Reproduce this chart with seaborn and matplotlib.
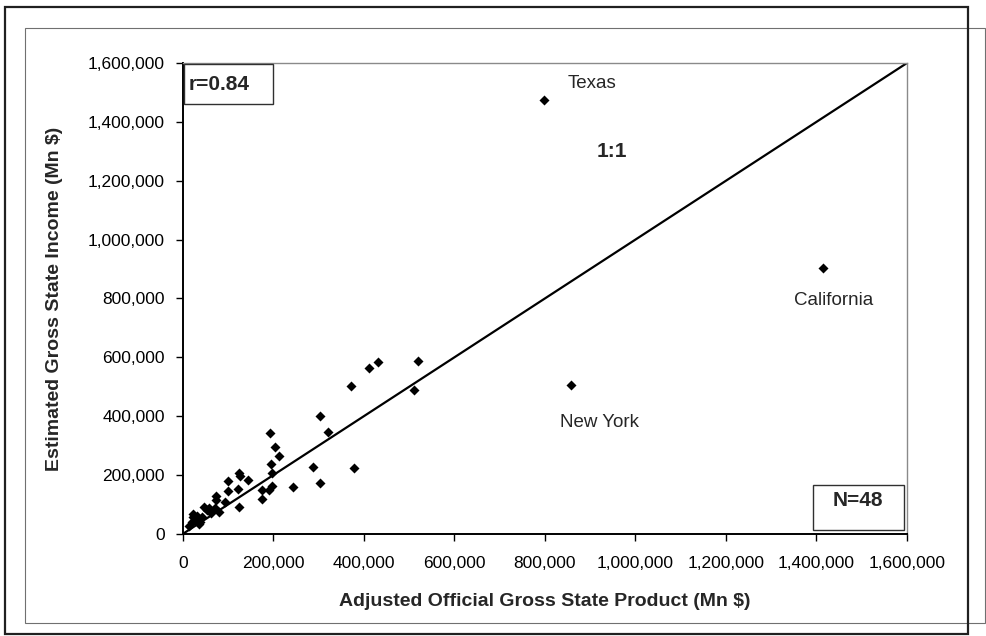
import matplotlib
matplotlib.use("Agg")
import matplotlib.pyplot as plt
import seaborn as sns
import pandas as pd
from matplotlib.patches import Rectangle
from matplotlib.ticker import FuncFormatter

# ---- data (Mn $) ----
official_gsp = [798000, 1415000, 857000,
                519000, 511000, 430000, 410000, 371000, 303000, 320000, 379000,
                287000, 303000, 244000, 204000, 213000, 192000, 194000, 196000,
                197000, 189000, 175000, 175000,
                144000, 124000, 127000, 99000, 99000, 122000, 124000,
                72000, 73000, 92000, 80000, 70000, 57000, 46000, 22000, 23000,
                19000, 38000, 36000, 29000, 43000, 52000, 14000, 62000, 30000]
estimated_gsi = [1473000, 903000, 505000,
                 588000, 489000, 584000, 562000, 502000, 399000, 347000, 225000,
                 228000, 172000, 159000, 294000, 266000, 344000, 237000, 208000,
                 164000, 148000, 148000, 118000,
                 183000, 208000, 196000, 181000, 147000, 151000, 90000,
                 128000, 115000, 108000, 75000, 87000, 86000, 90000, 66000, 56000,
                 40000, 40000, 35000, 49000, 58000, 80000, 27000, 70000, 62000]
labeled_states = ["Texas", "California", "New York"]
axis_ticks = [0, 200000, 400000, 600000, 800000, 1000000, 1200000, 1400000, 1600000]
r_text = "r=0.84"
n_text = "N=48"

df = pd.DataFrame({"gsp": official_gsp, "gsi": estimated_gsi})

sns.set_style("white")
plt.rcParams["font.family"] = ["Liberation Sans", "DejaVu Sans"]

fig = plt.figure(figsize=(9.87, 6.36), dpi=100)
fig.patch.set_facecolor("white")

# frames around the chart
fig.add_artist(Rectangle((25/987, 1-623/636), 960/987, 595/636, transform=fig.transFigure,
                         fill=False, edgecolor="#707070", lw=0.8))
fig.add_artist(Rectangle((5/987, 1-634/636), 963/987, 627/636, transform=fig.transFigure,
                         fill=False, edgecolor="#202020", lw=1.6))

ax = fig.add_axes([183/987, 1-533.8/636, 724/987, 470.8/636])

sns.scatterplot(data=df, x="gsp", y="gsi", marker="D", s=26, color="black",
                edgecolor="black", linewidth=0, ax=ax, zorder=3)
sns.lineplot(x=[axis_ticks[0], axis_ticks[-1]], y=[axis_ticks[0], axis_ticks[-1]],
             color="black", lw=1.6, ax=ax, zorder=2)

ax.set_xlim(axis_ticks[0], axis_ticks[-1])
ax.set_ylim(axis_ticks[0], axis_ticks[-1])
ax.set_xticks(axis_ticks)
ax.set_yticks(axis_ticks)
fmt = FuncFormatter(lambda v, p: f"{int(v):,}")
ax.xaxis.set_major_formatter(fmt)
ax.yaxis.set_major_formatter(fmt)
ax.tick_params(axis="both", direction="out", length=5, width=1, color="black",
               labelsize=12.5, labelcolor="black")
ax.tick_params(axis="x", pad=11, bottom=True)
ax.tick_params(axis="y", pad=8, left=True)

for side in ["left", "bottom"]:
    ax.spines[side].set_color("black")
    ax.spines[side].set_linewidth(1.4)
for side in ["top", "right"]:
    ax.spines[side].set_visible(True)
    ax.spines[side].set_color("#8a8a8a")
    ax.spines[side].set_linewidth(1.0)

ax.set_xlabel("Adjusted Official Gross State Product (Mn $)", fontsize=14,
              fontweight="bold", labelpad=16)
ax.set_ylabel("Estimated Gross State Income (Mn $)", fontsize=14,
              fontweight="bold", labelpad=18)

# state labels
ax.text(851000, 1530000, labeled_states[0], fontsize=13.5, ha="left", va="center")
ax.text(1438000, 793000, labeled_states[1], fontsize=13.5, ha="center", va="center")
ax.text(921000, 378000, labeled_states[2], fontsize=13.5, ha="center", va="center")
ax.text(948000, 1298000, "1:1", fontsize=15, fontweight="bold", ha="center", va="center")

# r box
ax.add_patch(Rectangle((0.0014, 0.913), 0.1226, 0.085, transform=ax.transAxes,
                       fill=True, facecolor="white", edgecolor="#303030", lw=1.0,
                       zorder=4))
ax.text(0.0083, 0.955, r_text, transform=ax.transAxes, fontsize=15,
        fontweight="bold", ha="left", va="center", zorder=5)
# N box
ax.add_patch(Rectangle((0.870, 0.008), 0.126, 0.0957, transform=ax.transAxes,
                       fill=True, facecolor="white", edgecolor="#303030", lw=1.0,
                       zorder=4))
ax.text(0.932, 0.0697, n_text, transform=ax.transAxes, fontsize=15,
        fontweight="bold", ha="center", va="center", zorder=5)

fig.savefig("out.png", dpi=100)
